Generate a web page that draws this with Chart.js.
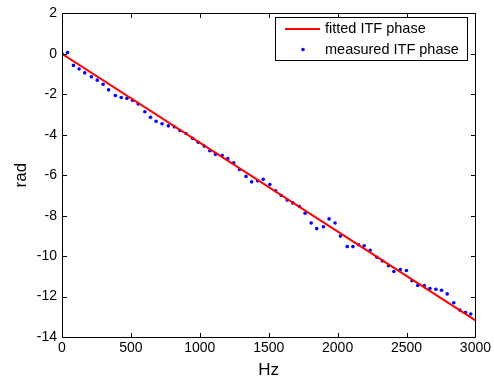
<!DOCTYPE html>
<html>
<head>
<meta charset="utf-8">
<script src="https://cdn.jsdelivr.net/npm/chart.js@4/dist/chart.umd.min.js"></script>
<style>
html,body{margin:0;padding:0;background:#fff;}
#wrap{width:494px;height:381px;position:relative;}
</style>
</head>
<body>
<div id="wrap"><canvas id="c" width="494" height="381"></canvas></div>
<script>
const measuredHz = [0,40,83,124,165,213,256,298,338,387,430,471,512,553,601,642,683,726,772,815,856,900,948,988,1032,1073,1114,1162,1203,1246,1288,1335,1376,1420,1460,1508,1550,1591,1634,1675,1723,1764,1808,1848,1897,1938,1981,2020,2070,2111,2152,2193,2236,2285,2325,2369,2408,2455,2499,2540,2581,2629,2670,2713,2754,2795,2843,2887,2928,2966];
const measuredPhase = [0,0.07,-0.57,-0.75,-0.94,-1.13,-1.30,-1.50,-1.78,-2.06,-2.16,-2.20,-2.30,-2.48,-2.86,-3.14,-3.33,-3.46,-3.56,-3.61,-3.79,-3.94,-4.18,-4.37,-4.56,-4.79,-4.97,-5.03,-5.18,-5.39,-5.72,-6.06,-6.33,-6.28,-6.20,-6.46,-6.77,-7.00,-7.23,-7.37,-7.55,-7.88,-8.36,-8.64,-8.55,-8.16,-8.36,-9.01,-9.53,-9.53,-9.44,-9.49,-9.71,-10.06,-10.24,-10.48,-10.76,-10.66,-10.71,-11.22,-11.45,-11.46,-11.60,-11.64,-11.69,-11.87,-12.31,-12.67,-12.79,-12.86];
const fittedHz = [0,3000];
const fittedPhase = [0,-13.18];
const xTicks = [0,500,1000,1500,2000,2500,3000];
const yTicks = [2,0,-2,-4,-6,-8,-10,-12,-14];
const legendLabels = ['fitted ITF phase','measured ITF phase'];
const xTitle = 'Hz';
const yTitle = 'rad';

const FONT = '"Liberation Sans", Arial, sans-serif';

const boxPlugin = {
  id: 'boxPlugin',
  afterDraw(chart) {
    const ctx = chart.ctx;
    const a = chart.chartArea;
    const xs = chart.scales.x, ys = chart.scales.y;
    ctx.save();
    ctx.strokeStyle = '#000';
    ctx.lineWidth = 1;
    const L = Math.round(a.left)+0.5, R = Math.round(a.right)+0.5, T = Math.round(a.top)+0.5, B = Math.round(a.bottom)+0.5;
    ctx.beginPath();
    ctx.rect(L, T, R-L, B-T);
    ctx.stroke();
    const tl = 4.5;
    ctx.beginPath();
    xTicks.forEach(v => {
      const px = Math.round(xs.getPixelForValue(v))+0.5;
      ctx.moveTo(px, B); ctx.lineTo(px, B - tl);
      ctx.moveTo(px, T); ctx.lineTo(px, T + tl);
    });
    yTicks.forEach(v => {
      const py = Math.round(ys.getPixelForValue(v))+0.5;
      ctx.moveTo(L, py); ctx.lineTo(L + tl, py);
      ctx.moveTo(R, py); ctx.lineTo(R - tl, py);
    });
    ctx.stroke();

    // axis titles
    ctx.fillStyle = '#000';
    ctx.font = '17px ' + FONT;
    ctx.textAlign = 'center';
    ctx.textBaseline = 'middle';
    ctx.fillText(xTitle, (a.left + a.right)/2, 370);
    ctx.save();
    ctx.translate(21, (a.top + a.bottom)/2);
    ctx.rotate(-Math.PI/2);
    ctx.fillText(yTitle, 0, 0);
    ctx.restore();

    // legend
    const lx = 275.5, ly = 17.5, lw = 192, lh = 43;
    ctx.fillStyle = '#fff';
    ctx.fillRect(lx, ly, lw, lh);
    ctx.strokeStyle = '#000';
    ctx.strokeRect(lx, ly, lw, lh);
    ctx.strokeStyle = '#ff0000';
    ctx.lineWidth = 2;
    ctx.beginPath();
    ctx.moveTo(285, 29); ctx.lineTo(320, 29);
    ctx.stroke();
    ctx.fillStyle = '#0000ff';
    ctx.beginPath();
    ctx.arc(303, 49.5, 1.8, 0, Math.PI*2);
    ctx.fill();
    ctx.fillStyle = '#000';
    ctx.font = '14.5px ' + FONT;
    ctx.textAlign = 'left';
    ctx.textBaseline = 'middle';
    ctx.fillText(legendLabels[0], 325, 29);
    ctx.fillText(legendLabels[1], 325, 50);
    ctx.restore();
  }
};

new Chart(document.getElementById('c'), {
  type: 'scatter',
  data: {
    datasets: [
      {
        label: legendLabels[0],
        type: 'line',
        data: fittedHz.map((x,i)=>({x:x, y:fittedPhase[i]})),
        borderColor: '#ff0000',
        borderWidth: 2,
        pointRadius: 0,
        fill: false,
        tension: 0
      },
      {
        label: legendLabels[1],
        data: measuredHz.map((x,i)=>({x:x, y:measuredPhase[i]})),
        backgroundColor: '#0000ff',
        borderColor: '#0000ff',
        borderWidth: 0,
        pointRadius: 1.8
      }
    ]
  },
  options: {
    responsive: false,
    animation: false,
    devicePixelRatio: 1,
    layout: { padding: { top: 11, right: 16, left: 0, bottom: 0 } },
    plugins: { legend: { display: false }, tooltip: { enabled: false } },
    scales: {
      x: {
        type: 'linear', min: 0, max: 3000,
        afterBuildTicks: s => { s.ticks = xTicks.map(v => ({value: v})); },
        afterFit: s => { s.height = 44; },
        grid: { display: false, drawTicks: false },
        border: { display: false },
        ticks: { color: '#000', padding: 3, maxRotation: 0, autoSkip: false, font: { family: FONT, size: 14 }, callback: v => String(v) }
      },
      y: {
        type: 'linear', min: -14, max: 2,
        afterBuildTicks: s => { s.ticks = yTicks.map(v => ({value: v})); },
        afterFit: s => { s.width = 62; },
        grid: { display: false, drawTicks: false },
        border: { display: false },
        ticks: { color: '#000', padding: 5, autoSkip: false, font: { family: FONT, size: 14 }, callback: v => String(v) }
      }
    }
  },
  plugins: [boxPlugin]
});
</script>
</body>
</html>
